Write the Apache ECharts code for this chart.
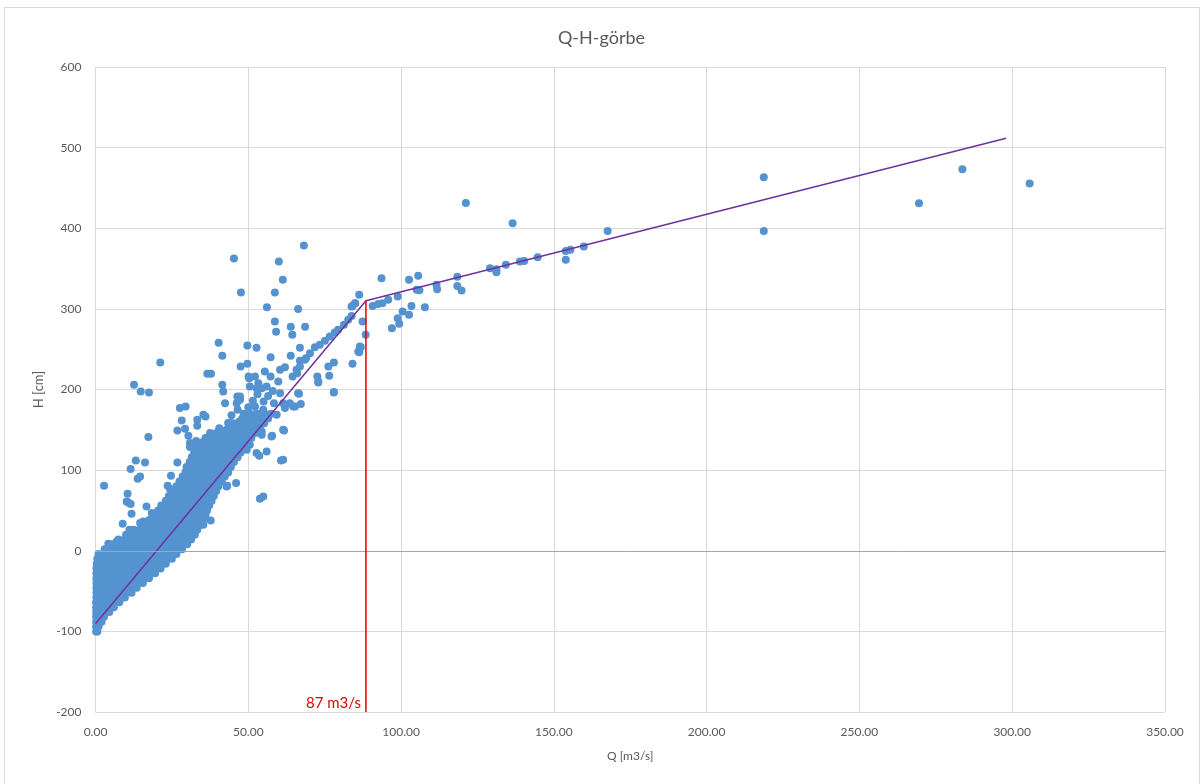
<!DOCTYPE html>
<html>
<head>
<meta charset="utf-8">
<script src="https://cdn.jsdelivr.net/npm/echarts@6/dist/echarts.min.js"></script>
<style>
html,body{margin:0;padding:0;background:#fff;}
#chart{width:1203px;height:784px;}
</style>
</head>
<body>
<div id="chart"></div>
<script>
// ---- DATA ----
const titleText = 'Q-H-görbe';
const xName = 'Q [m3/s]';
const yName = 'H [cm]';
const xMin = 0, xMax = 350, xStep = 50;
const yMin = -200, yMax = 600, yStep = 100;

// Dense band of observations: each row = [H, Q values...]
const bandRows = [
  [-100, 0.2, 0.6],
  [-94, 0.2, 1.0],
  [-88, 0.2, 1.2, 2.0],
  [-82, 0.2, 1.5, 2.8],
  [-76, 0.2, 1.6, 3.0, 4.5],
  [-70, 0.2, 2.0, 4.0, 6.0],
  [-64, 0.2, 2.1, 4.0, 5.9, 7.8],
  [-58, 0.3, 2.2, 4.1, 6.0, 7.8, 9.6],
  [-52, 0.3, 2.3, 4.3, 6.3, 8.3, 10.1, 11.8],
  [-46, 0.3, 2.3, 4.3, 6.2, 8.1, 10.0, 11.8, 13.5],
  [-40, 0.3, 2.3, 4.3, 6.3, 8.3, 10.2, 12.0, 13.8, 15.5],
  [-34, 0.3, 2.3, 4.3, 6.3, 8.3, 10.2, 12.1, 14.0, 15.8, 17.5],
  [-28, 0.3, 2.3, 4.3, 6.3, 8.3, 10.3, 12.2, 14.1, 16.0, 17.8, 19.5],
  [-22, 0.3, 2.3, 4.3, 6.3, 8.3, 10.3, 12.3, 14.2, 16.0, 17.8, 19.6, 21.3],
  [-16, 0.4, 2.4, 4.4, 6.4, 8.4, 10.4, 12.4, 14.4, 16.3, 18.2, 20.0, 21.6, 23.0],
  [-10, 0.6, 2.6, 4.6, 6.6, 8.6, 10.6, 12.6, 14.6, 16.5, 18.4, 20.2, 22.0, 23.6, 25.0],
  [-4, 1.0, 3.0, 5.0, 7.0, 9.0, 11.0, 13.0, 15.0, 17.0, 18.9, 20.8, 22.6, 24.2, 25.6, 26.5],
  [2, 3.0, 5.0, 7.0, 9.0, 11.0, 13.0, 15.0, 17.0, 19.0, 21.0, 22.8, 24.5, 26.0, 27.3, 28.3],
  [8, 5.5, 7.5, 9.5, 11.5, 13.5, 15.5, 17.5, 19.5, 21.5, 23.4, 25.2, 26.9, 28.5, 30.0],
  [14, 7.5, 9.5, 11.5, 13.5, 15.5, 17.5, 19.5, 21.5, 23.5, 25.4, 27.2, 28.8, 30.2, 31.3],
  [20, 10.0, 12.0, 14.0, 16.0, 18.0, 20.0, 22.0, 24.0, 25.9, 27.7, 29.4, 31.0, 32.5],
  [26, 12.5, 14.5, 16.5, 18.5, 20.5, 22.5, 24.4, 26.3, 28.1, 29.9, 31.6, 33.3],
  [32, 15.0, 17.0, 19.0, 21.0, 23.0, 24.9, 26.8, 28.7, 30.6, 32.5, 34.3],
  [38, 17.5, 19.5, 21.5, 23.4, 25.3, 27.2, 29.1, 31.0, 32.8, 34.2, 35.2],
  [44, 19.0, 21.0, 23.0, 25.0, 26.9, 28.8, 30.7, 32.5, 34.3, 36.0],
  [50, 20.5, 22.5, 24.5, 26.4, 28.3, 30.2, 32.0, 33.8, 35.3, 36.5],
  [56, 21.5, 23.5, 25.5, 27.4, 29.3, 31.2, 33.0, 34.7, 36.1, 37.2],
  [62, 23.0, 25.0, 27.0, 28.9, 30.8, 32.6, 34.4, 36.2, 38.0],
  [68, 24.0, 26.0, 28.0, 29.9, 31.8, 33.6, 35.4, 37.1, 38.7],
  [74, 25.5, 27.5, 29.5, 31.4, 33.3, 35.1, 36.9, 38.3, 39.5],
  [80, 26.5, 28.5, 30.5, 32.4, 34.3, 36.1, 37.8, 39.2, 40.2],
  [86, 27.5, 29.5, 31.5, 33.4, 35.3, 37.1, 38.8, 40.2, 41.3],
  [92, 28.5, 30.5, 32.5, 34.4, 36.3, 38.1, 39.8, 41.2, 42.3],
  [98, 29.5, 31.5, 33.5, 35.4, 37.3, 39.1, 40.8, 42.2, 43.2],
  [104, 30.2, 32.2, 34.2, 36.1, 38.0, 39.8, 41.5, 43.0, 44.3],
  [110, 30.8, 32.8, 34.8, 36.8, 38.7, 40.6, 42.3, 43.9, 45.3],
  [116, 31.5, 33.5, 35.5, 37.5, 39.4, 41.3, 43.1, 44.9, 46.5],
  [122, 32.3, 34.3, 36.3, 38.3, 40.2, 42.1, 43.9, 45.7, 47.5],
  [128, 33.0, 35.0, 37.0, 39.0, 41.0, 43.0, 44.9, 46.8, 48.7],
  [134, 34.5, 36.5, 38.5, 40.5, 42.5, 44.4, 46.3, 48.1, 49.8],
  [140, 36.0, 38.0, 40.0, 42.0, 44.0, 45.9, 47.8, 49.5, 51.0],
  [146, 37.5, 39.5, 41.5, 43.5, 45.5, 47.4, 49.3, 51.0, 52.3],
  [152, 40.5, 44.0, 46.0, 48.0, 50.0, 52.0, 53.8],
  [158, 45.0, 47.5, 49.5, 51.5, 53.5, 55.2],
  [164, 48.0, 50.5, 52.5, 54.5, 56.5],
  [170, 50.5, 53.0, 55.0, 57.5]
];

// Scattered observations [Q, H]
const scatterPoints = [
  [45.3,362.6],[68.2,378.5],[60.0,358.7],[61.3,336.0],[47.6,320.2],[58.7,320.2],[56.1,302.1],[66.3,300.0],
  [58.7,284.3],[59.1,271.5],[63.9,277.7],[64.4,267.8],[68.6,277.7],[40.3,257.9],[49.7,254.5],[52.7,251.7],
  [41.5,241.8],[57.3,240.1],[66.9,251.7],[63.9,241.8],[47.5,228.5],[49.7,231.8],[50.1,216.1],[36.6,219.4],
  [37.8,219.4],[41.5,205.8],[57.3,216.1],[60.4,224.4],[62.0,227.7],[66.9,235.6],[68.9,238.9],[65.8,224.4],
  [64.5,216.1],[72.6,216.1],[72.9,209.9],[76.2,228.5],[78.0,233.4],[76.5,217.0],[78.0,196.8],[84.1,231.8],
  [86.3,246.3],[86.8,252.5],[88.4,267.8],[87.4,284.3],[86.3,317.4],[85.0,307.1],[84.1,303.7],
  [66.0,220.3],[66.9,228.5],[68.5,236.8],[70.2,245.1],[71.8,252.5],[73.4,255.4],[75.1,260.4],[76.7,265.7],
  [78.3,270.6],[79.4,274.0],[81.3,280.2],[82.7,286.4],[83.8,291.3],
  [93.6,338.1],[84.9,307.0],[83.8,302.9],[86.5,253.3],[86.0,247.1],[90.7,303.7],[92.5,306.2],[93.9,307.1],
  [95.8,311.2],[98.9,315.3],[102.6,336.0],[105.6,341.0],[105.1,323.6],[106.0,323.0],[103.4,303.7],[100.5,296.7],
  [98.9,288.5],[102.6,292.6],[99.4,281.4],[97.0,276.1],[107.8,302.1],[111.6,329.8],[111.8,324.4],[118.4,340.0],
  [118.4,328.5],[119.8,322.7],[129.1,350.5],[131.2,349.2],
  [136.5,406.3],[131.2,345.5],[134.3,354.6],[138.9,358.7],[140.3,359.5],[144.7,364.1],[153.9,371.9],[155.4,373.2],
  [153.9,360.8],[159.8,377.3],[167.6,396.7],[121.2,431.4],[218.7,463.3],[218.7,396.7],[269.5,431.0],[283.7,473.2],
  [305.7,455.4],
  [21.2,233.5],[12.6,205.8],[14.8,197.5],[17.5,196.3],[41.8,197.5],[46.4,191.3],[27.6,176.9],[29.5,178.9],
  [28.2,161.5],[33.3,162.4],[33.3,155.0],[36.0,166.5],[43.4,158.3],[26.8,149.2],[29.3,151.3],[30.4,142.6],
  [42.7,145.0],[42.7,136.8],[17.3,141.0],[30.9,133.5],[32.9,136.0],[34.7,134.3],[37.1,141.0],[30.9,128.6],
  [34.2,127.3],[37.1,126.1],[13.2,112.0],[16.2,109.5],[11.5,101.3],[26.8,109.5],[29.8,103.8],[14.6,92.1],
  [13.8,89.3],[24.7,93.0],[2.8,80.6],[23.6,80.6],[24.4,76.5],[10.5,70.7],[10.2,61.1],[11.5,57.9],
  [16.7,54.9],[42.9,79.7],[46.0,83.9],[43.4,97.1],
  [78.0,196.3],[72.9,208.7],[67.2,181.9],[65.3,178.9],[62.0,176.9],[66.6,194.6],[61.7,149.2],[57.8,142.6],
  [60.7,112.0],[56.0,123.1],[54.9,67.3],[53.8,64.5],[43.1,80.6],[42.4,135.5],[52.7,121.1],[53.6,117.8],
  [54.4,143.8],
  [10.7,59.9],[11.8,45.9],[18.4,46.7],[14.6,34.3],[15.6,36.3],[8.9,33.5],[11.1,26.0],[4.2,8.7],
  [6.9,11.5],[36.4,52.9],[35.3,32.2],[37.7,37.6],[30.4,15.7],[1.2,-15.3],
  [54.4,201.7],[56.0,203.7],[59.8,209.9],[60.4,195.5],[58.4,183.1],[50.5,203.7],[50.3,214.1],[47.3,191.3],
  [52.2,178.9],[54.9,174.8],[49.5,166.5],[53.3,160.3],[56.5,168.6],[59.3,168.6],[61.4,183.1],[63.6,183.1],
  [66.3,195.5],[64.7,178.9],[57.6,141.7],[54.4,147.9],[44.0,158.3],[42.9,150.0],[40.7,145.9],[35.3,168.6],
  [42.4,183.1],[46.2,183.1],[47.3,187.2],[49.5,125.2],[61.4,112.8],[52.2,216.1],[53.3,207.9],[52.7,201.7],
  [55.4,222.3],[61.4,150.0],[50.5,131.4],
  [47.0,160.0],[48.5,170.0],[50.0,178.0],[51.5,186.0],[53.0,194.0],[45.5,152.0],[48.0,150.0],[51.0,155.0],
  [55.0,185.0],[56.5,192.0],[58.0,198.0],[52.5,170.0],[50.5,160.0],[46.5,175.0],[44.5,168.0]
];

// Two-segment rating curve fit [Q, H]
const fitLine = [[0, -90.5], [88.5, 310], [298, 511.6]];
// Breakpoint discharge marker
const breakQ = 88.5;
const breakTopH = 310;
const breakLabel = '87 m3/s';

// ---- BUILD ----
const bandData = [];
bandRows.forEach(row => {
  const h = row[0];
  for (let i = 1; i < row.length; i++) bandData.push([row[i], h]);
});
const allPoints = bandData.concat(scatterPoints);

const FONT = 'Lato, "Open Sans", sans-serif';
const TXT = '#595959';

const chart = echarts.init(document.getElementById('chart'), null, {renderer: 'canvas'});
const option = {
  animation: false,
  backgroundColor: '#ffffff',
  title: {
    text: titleText, left: 'center', top: 24,
    textStyle: {fontFamily: FONT, fontSize: 18, fontWeight: 'normal', color: TXT}
  },
  grid: {left: 95.5, right: 38, top: 67, bottom: 72, containLabel: false},
  xAxis: {
    type: 'value', min: xMin, max: xMax, interval: xStep,
    name: xName, nameLocation: 'middle', nameGap: 38,
    nameTextStyle: {fontFamily: FONT, fontSize: 12, color: TXT},
    axisLine: {show: false}, axisTick: {show: false},
    axisLabel: {fontFamily: FONT, fontSize: 12, color: TXT, margin: 14, formatter: v => v.toFixed(2)},
    splitLine: {show: true, lineStyle: {color: '#d9d9d9', width: 1}}
  },
  yAxis: {
    type: 'value', min: yMin, max: yMax, interval: yStep,
    name: yName, nameLocation: 'middle', nameGap: 40, nameRotate: 90,
    nameTextStyle: {fontFamily: FONT, fontSize: 13, color: TXT},
    axisLine: {show: false}, axisTick: {show: false},
    axisLabel: {fontFamily: FONT, fontSize: 12, color: TXT, margin: 14},
    splitLine: {show: true, lineStyle: {color: '#d9d9d9', width: 1}}
  },
  series: [
    {
      type: 'scatter', data: allPoints, symbolSize: 8,
      itemStyle: {color: '#5593d0', opacity: 1},
      markLine: {
        silent: true, symbol: 'none', label: {show: false},
        lineStyle: {color: '#a6a6a6', width: 1, type: 'solid'},
        data: [{yAxis: 0}]
      },
      z: 3
    },
    {
      type: 'line', data: fitLine, showSymbol: false, symbol: 'none',
      lineStyle: {color: '#7030a0', width: 1.5}, z: 4
    },
    {
      type: 'line', data: [[breakQ, yMin], [breakQ, breakTopH]], showSymbol: false, symbol: 'none',
      lineStyle: {color: '#e00000', width: 1.5}, z: 5
    }
  ]
};
chart.setOption(option);

const p = chart.convertToPixel({gridIndex: 0}, [breakQ, yMin]);
chart.setOption({
  graphic: [
    {type: 'rect', shape: {x: 4.5, y: 7.5, width: 1195, height: 800}, style: {fill: null, stroke: '#d9d9d9', lineWidth: 1}, silent: true, z: -1},
    {type: 'text', x: p[0] - 5, y: p[1] - 9, style: {text: breakLabel, fill: '#e00000', font: '15px ' + FONT, textAlign: 'right', textVerticalAlign: 'middle'}, z: 10}
  ]
});
</script>
</body>
</html>
